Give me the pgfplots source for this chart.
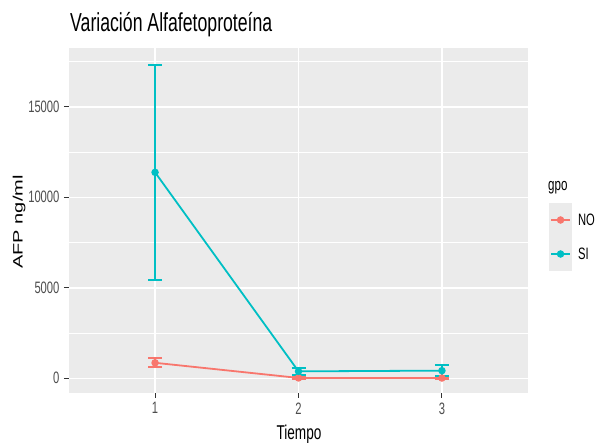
\documentclass[border=0pt]{standalone}
\usepackage{fontspec}
\setmainfont{Liberation Sans}[FakeStretch=0.68]
\newfontfamily\plainsans{Liberation Sans}
\usepackage{graphicx}
\usepackage{pgfplots}
\pgfplotsset{compat=1.18}

\definecolor{panel}{HTML}{EBEBEB}
\definecolor{gpoNO}{HTML}{F8766D}
\definecolor{gpoSI}{HTML}{00BFC4}
\definecolor{gtext}{HTML}{4D4D4D}
\definecolor{gtick}{HTML}{333333}

% mean AFP and error half-width per time point
\pgfplotstableread{
x y e
1 856 250
2 20 40
3 15 40
}\datNO
\pgfplotstableread{
x y e
1 11380 5950
2 384 202
3 423 296
}\datSI

\begin{document}
\begin{tikzpicture}[x=1pt,y=1pt]
\path[use as bounding box] (-69,-50) rectangle (528,393);
\begin{axis}[
  at={(0,0)}, anchor=south west,
  scale only axis, width=459pt, height=345pt,
  xmin=0.4, xmax=3.6, ymin=-812, ymax=18250,
  axis background/.style={fill=panel},
  axis line style={draw=none},
  xtick={1,2,3}, ytick={0,5000,10000,15000},
  minor ytick={2500,7500,12500,17500},
  scaled y ticks=false,
  grid=both,
  major grid style={white, line width=1.4pt},
  minor grid style={white, line width=0.7pt},
  xtick pos=lower, ytick pos=left,
  tick style={gtick, line width=1pt},
  tick align=outside, major tick length=5pt, minor tick length=0pt,
  /pgf/number format/assume math mode=true,
  /pgf/number format/1000 sep={},
  ticklabel style={font=\fontsize{16.5}{19}\selectfont, text=gtext},
  xticklabel style={yshift=-1pt},
  yticklabel style={xshift=-1pt},
  legend style={at={(1.0458,0.5507)}, anchor=north west, draw=none, fill=none,
    inner sep=0pt, outer sep=0pt, row sep=0pt,
    font=\fontsize{16.5}{19}\selectfont,
    nodes={inner sep=0pt, text=black},
    /tikz/every odd column/.append style={column sep=6pt}},
  legend cell align=left,
  legend image code/.code={
    \fill[panel, draw=none] (0pt,-17pt) rectangle (23pt,17pt);
    \draw (2pt,0pt) -- (21pt,0pt);
    \fill (11.5pt,0pt) circle (2.8pt);
  },
]
\addplot[gpoNO, line width=1.8pt, mark=*, mark size=2.8pt,
  error bars/.cd, y dir=both, y explicit, error mark=|,
  error mark options={gpoNO, line width=1.8pt, mark size=7pt},
  error bar style={line width=1.8pt}]
  table[x=x, y=y, y error=e] {\datNO};
\addlegendentry{NO}
\addplot[gpoSI, line width=1.8pt, mark=*, mark size=2.8pt,
  error bars/.cd, y dir=both, y explicit, error mark=|,
  error mark options={gpoSI, line width=1.8pt, mark size=7pt},
  error bar style={line width=1.8pt}]
  table[x=x, y=y, y error=e] {\datSI};
\addlegendentry{SI}
\end{axis}
% titles
\node[anchor=base west, inner sep=0pt, font=\fontsize{26}{30}\selectfont] at (1,361.5) {Variación Alfafetoproteína};
\node[anchor=base, inner sep=0pt, font=\fontsize{20}{24}\selectfont] at (230,-47) {Tiempo};
\node[rotate=90, inner sep=0pt] at (-50,171) {\scalebox{1}[0.68]{\plainsans\fontsize{20}{24}\selectfont AFP ng/ml}};
\node[anchor=base west, inner sep=0pt, font=\fontsize{17}{20}\selectfont] at (479,202) {gpo};
\end{tikzpicture}
\end{document}
